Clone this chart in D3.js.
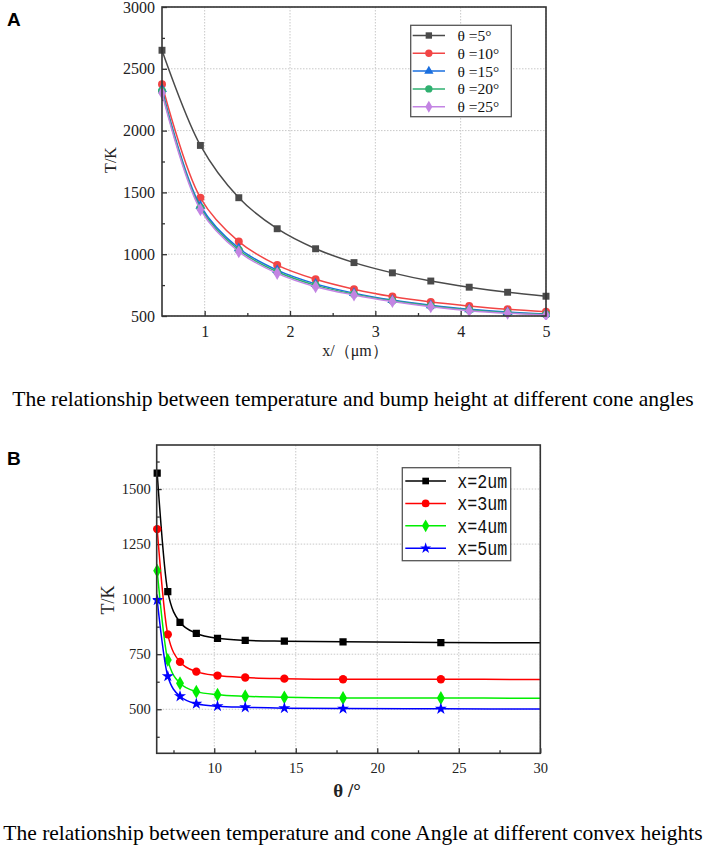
<!DOCTYPE html>
<html>
<head>
<meta charset="utf-8">
<script src="https://cdn.jsdelivr.net/npm/d3@7/dist/d3.min.js"></script>
<style>
    body { margin: 0; background: #ffffff; }
    text { font-family: "Liberation Serif", "Times New Roman", serif; }
</style>
</head>
<body>
<svg id="chart" width="706" height="852"></svg>
<script>

// ---- panel A : T vs bump height, one curve per cone angle ----
var xA = [0.5, 0.95, 1.4, 1.85, 2.3, 2.75, 3.2, 3.65, 4.1, 4.55, 5.0];
var namesA = ["\u03b8 =5\u00b0", "\u03b8 =10\u00b0", "\u03b8 =15\u00b0", "\u03b8 =20\u00b0", "\u03b8 =25\u00b0"];
var tA_5 = [2650, 1880, 1457, 1206, 1044, 932, 849, 783, 733, 692, 660];
var tA_10 = [2375, 1456, 1102, 912, 797, 717, 657, 613, 581, 554, 534];
var tA_15 = [2335, 1392, 1048, 871, 760, 685, 629, 587, 554, 532, 516];
var tA_20 = [2320, 1375, 1034, 858, 748, 677, 623, 581, 548, 527, 512];
var tA_25 = [2305, 1360, 1020, 845, 737, 670, 617, 575, 543, 522, 508];
var xTicksA = [1, 2, 3, 4, 5];
var xMinorA = [1.5, 2.5, 3.5, 4.5];
var yTicksA = [500, 1000, 1500, 2000, 2500, 3000];
var yMinorA = [750, 1250, 1750, 2250, 2750];

// ---- panel B : T vs cone angle, one curve per bump height ----
var thetaB = [6.5, 7.15, 7.9, 8.9, 10.2, 11.9, 14.3, 17.9, 23.9, 30];
var namesB = ["x=2um", "x=3um", "x=4um", "x=5um"];
var tB_2 = [1572, 1034, 895, 845, 822, 813, 809, 806, 803, 802];
var tB_3 = [1318, 840, 715, 671, 653, 644, 639, 636, 636, 635];
var tB_4 = [1129, 724, 618, 580, 566, 559, 554, 551, 551, 550];
var tB_5 = [996, 650, 559, 525, 514, 509, 505, 503, 502, 501];
var markerCountB = 9;   // last point (30) only carries the line
var xTicksB = [10, 15, 20, 25, 30];
var xMinorB = [7.5, 12.5, 17.5, 22.5, 27.5];
var yTicksB = [500, 750, 1000, 1250, 1500];
var yMinorB = [375, 625, 875, 1125, 1375, 1625];


var svg = d3.select("#chart");

function drawPanel(cfg) {
    var w = cfg.right - cfg.left;
    var h = cfg.bottom - cfg.top;
    var g = svg.append("g").attr("transform", "translate(" + cfg.left + "," + cfg.top + ")");

    var x = d3.scaleLinear().domain(cfg.xDomain).range([0, w]);
    var y = d3.scaleLinear().domain(cfg.yDomain).range([h, 0]);

    // dotted grid
    g.append("g").selectAll("line").data(cfg.xTicks).enter().append("line")
        .attr("x1", function (d) { return x(d); }).attr("x2", function (d) { return x(d); })
        .attr("y1", 0).attr("y2", h)
        .attr("stroke", "#c8c8c8").attr("stroke-width", 1).attr("stroke-dasharray", "1.5,1.5");
    g.append("g").selectAll("line").data(cfg.yTicks).enter().append("line")
        .attr("y1", function (d) { return y(d); }).attr("y2", function (d) { return y(d); })
        .attr("x1", 0).attr("x2", w)
        .attr("stroke", "#c8c8c8").attr("stroke-width", 1).attr("stroke-dasharray", "1.5,1.5");

    // axes, ticks pointing inward
    g.append("g").attr("transform", "translate(0," + h + ")")
        .call(d3.axisBottom(x).tickValues(cfg.xTicks).tickSize(-5).tickPadding(cfg.xPad).tickFormat(d3.format("d")));
    g.append("g").attr("transform", "translate(0," + h + ")")
        .call(d3.axisBottom(x).tickValues(cfg.xMinor).tickSize(-3).tickFormat(""));
    g.append("g")
        .call(d3.axisLeft(y).tickValues(cfg.yTicks).tickSize(-5).tickPadding(cfg.yPad).tickFormat(d3.format("d")));
    g.append("g")
        .call(d3.axisLeft(y).tickValues(cfg.yMinor).tickSize(-3).tickFormat(""));

    g.selectAll(".domain").remove();
    g.selectAll(".tick line").attr("stroke", "#333").attr("stroke-width", 1.3);
    g.selectAll(".tick text")
        .style("font-family", "'Liberation Serif', serif")
        .style("font-size", cfg.tickFont + "px")
        .attr("fill", "#222");

    // curves
    var line = d3.line()
        .x(function (d) { return x(d.x); })
        .y(function (d) { return y(d.y); })
        .curve(cfg.curve);

    var clipId = "clip" + cfg.id;
    g.append("clipPath").attr("id", clipId).append("rect")
        .attr("x", -4).attr("y", -4).attr("width", w + 8).attr("height", h + 8);

    var plot = g.append("g").attr("clip-path", "url(#" + clipId + ")");

    cfg.series.forEach(function (s) {
        var pts = cfg.xs.map(function (v, i) { return { x: v, y: s.values[i] }; });
        plot.append("path").datum(pts)
            .attr("d", line)
            .attr("fill", "none")
            .attr("stroke", s.color)
            .attr("stroke-width", cfg.lineWidth);

        plot.selectAll(null).data(pts.slice(0, cfg.markerCount)).enter().append("path")
            .attr("transform", function (d) { return "translate(" + x(d.x) + "," + y(d.y) + ")"; })
            .attr("d", d3.symbol().type(s.symbol).size(s.size))
            .attr("fill", s.color);
    });

    // frame
    g.append("rect").attr("x", 0).attr("y", 0).attr("width", w).attr("height", h)
        .attr("fill", "none").attr("stroke", "#333").attr("stroke-width", 1.6);

    // legend
    var lg = svg.append("g");
    lg.append("rect")
        .attr("x", cfg.legend.x).attr("y", cfg.legend.y)
        .attr("width", cfg.legend.w).attr("height", cfg.legend.h)
        .attr("fill", "#fff").attr("stroke", "#555").attr("stroke-width", 1.3);
    cfg.series.forEach(function (s, i) {
        var ly = cfg.legend.firstRow + i * cfg.legend.rowStep;
        lg.append("line")
            .attr("x1", cfg.legend.lineX1).attr("x2", cfg.legend.lineX2)
            .attr("y1", ly).attr("y2", ly)
            .attr("stroke", s.color).attr("stroke-width", cfg.lineWidth);
        lg.append("path")
            .attr("transform", "translate(" + ((cfg.legend.lineX1 + cfg.legend.lineX2) / 2) + "," + ly + ")")
            .attr("d", d3.symbol().type(s.symbol).size(s.size * 0.85))
            .attr("fill", s.color);
        var t = lg.append("text")
            .attr("x", cfg.legend.textX).attr("y", ly)
            .attr("dy", "0.35em")
            .style("font-family", cfg.legend.font)
            .style("font-size", cfg.legend.fontSize + "px")
            .style("font-weight", cfg.legend.weight)
            .attr("fill", "#111")
            .text(s.name);
        if (cfg.legend.textLen) {
            t.attr("textLength", cfg.legend.textLen).attr("lengthAdjust", "spacingAndGlyphs");
        }
    });

    // axis titles
    svg.append("text")
        .attr("transform", "translate(" + cfg.yLabel.x + "," + cfg.yLabel.y + ") rotate(-90)")
        .attr("text-anchor", "middle").attr("dy", "0.35em")
        .style("font-size", cfg.yLabel.size + "px")
        .attr("fill", "#222")
        .text(cfg.yLabel.text);
    svg.append("text")
        .attr("x", cfg.xLabel.x).attr("y", cfg.xLabel.y)
        .attr("text-anchor", "middle").attr("dy", "0.35em")
        .style("font-size", cfg.xLabel.size + "px")
        .style("font-weight", cfg.xLabel.weight)
        .attr("fill", "#222")
        .text(cfg.xLabel.text);

    // panel letter and caption
    svg.append("text")
        .attr("x", cfg.letter.x).attr("y", cfg.letter.y)
        .style("font-family", "'Liberation Sans', Arial, sans-serif")
        .style("font-size", "19px").style("font-weight", "bold")
        .attr("fill", "#000")
        .text(cfg.letter.text);
    svg.append("text")
        .attr("x", 353).attr("y", cfg.caption.y)
        .attr("text-anchor", "middle").attr("dy", "0.35em")
        .style("font-size", "21.5px")
        .attr("fill", "#000")
        .text(cfg.caption.text);
}

drawPanel({
    id: "A",
    left: 162, right: 546, top: 7, bottom: 316,
    xDomain: [0.5, 5], yDomain: [500, 3000],
    xTicks: xTicksA, xMinor: xMinorA, yTicks: yTicksA, yMinor: yMinorA,
    xPad: 10, yPad: 7, tickFont: 16,
    xs: xA, markerCount: xA.length,
    curve: d3.curveCatmullRom.alpha(0.5),
    lineWidth: 1.5,
    series: [
        { name: namesA[0], values: tA_5, color: "#4a4a4a", symbol: d3.symbolSquare, size: 48 },
        { name: namesA[1], values: tA_10, color: "#f24545", symbol: d3.symbolCircle, size: 50 },
        { name: namesA[2], values: tA_15, color: "#1a6fdf", symbol: d3.symbolTriangle, size: 44 },
        { name: namesA[3], values: tA_20, color: "#2fb070", symbol: d3.symbolCircle, size: 50 },
        { name: namesA[4], values: tA_25, color: "#c384e3", symbol: d3.symbolDiamond, size: 50 }
    ],
    legend: { x: 410.7, y: 25.3, w: 100.6, h: 91.4, firstRow: 35.5, rowStep: 17.8,
              lineX1: 412.7, lineX2: 445, textX: 457.5,
              font: "'Liberation Serif', serif", fontSize: 15.5, weight: "normal" },
    yLabel: { x: 110, y: 160, text: "T/K", size: 16 },
    xLabel: { x: 355, y: 350, text: "x/\uff08\u03bcm\uff09", size: 16, weight: "normal" },
    letter: { x: 7, y: 26, text: "A" },
    caption: { y: 398, text: "The relationship between temperature and bump height at different cone angles" }
});

drawPanel({
    id: "B",
    left: 156.7, right: 540.3, top: 445, bottom: 753.3,
    xDomain: [6.47, 30], yDomain: [300, 1700],
    xTicks: xTicksB, xMinor: xMinorB, yTicks: yTicksB, yMinor: yMinorB,
    xPad: 9.5, yPad: 6, tickFont: 14.5,
    xs: thetaB, markerCount: markerCountB,
    curve: d3.curveMonotoneX,
    lineWidth: 1.5,
    series: [
        { name: namesB[0], values: tB_2, color: "#000000", symbol: d3.symbolSquare, size: 52 },
        { name: namesB[1], values: tB_3, color: "#ff0000", symbol: d3.symbolCircle, size: 55 },
        { name: namesB[2], values: tB_4, color: "#00ee00", symbol: d3.symbolDiamond, size: 55 },
        { name: namesB[3], values: tB_5, color: "#0000ff", symbol: d3.symbolStar, size: 45 }
    ],
    legend: { x: 402.3, y: 467.7, w: 108.4, h: 93, firstRow: 481, rowStep: 22.4,
              lineX1: 405.3, lineX2: 446, textX: 457.3, textLen: 50,
              font: "'Liberation Mono', monospace", fontSize: 20, weight: "normal" },
    yLabel: { x: 108, y: 600, text: "T/K", size: 18 },
    xLabel: { x: 347, y: 790, text: "\u03b8 /\u00b0", size: 19, weight: "bold" },
    letter: { x: 7, y: 465, text: "B" },
    caption: { y: 832, text: "The relationship between temperature and cone Angle at different convex heights" }
});

</script>
</body>
</html>
